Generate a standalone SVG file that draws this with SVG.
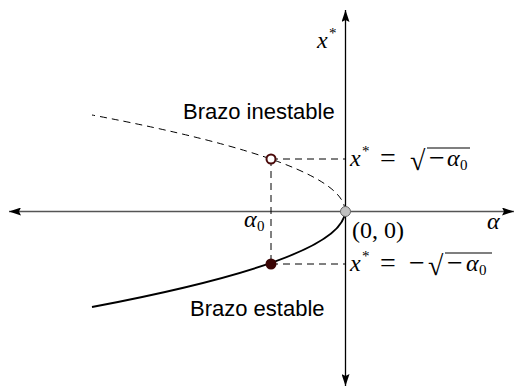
<svg xmlns="http://www.w3.org/2000/svg" width="515" height="390" viewBox="0 0 515 390">
<style>
.lbl{font-family:"Liberation Sans",Arial,sans-serif;font-size:22px;fill:#000}
.m{font-family:"Liberation Serif","Times New Roman",serif;font-size:24px;fill:#000}
.it{font-style:italic}
.s{font-size:15px}
.op{font-size:28px}
.dash{fill:none;stroke:#000;stroke-width:1;stroke-dasharray:7,5}
</style>
<defs>
<marker id="ah" viewBox="0 0 12 8" refX="12" refY="4" markerWidth="12" markerHeight="8" markerUnits="userSpaceOnUse" orient="auto">
<path d="M0,0 L12,4 L0,8 L2,4 Z" fill="#000"/>
</marker>
</defs>
<g id="connectors">
<line x1="345.5" y1="211.5" x2="9" y2="211.5" stroke="#555" stroke-width="1.3" marker-end="url(#ah)"/>
<line x1="345.5" y1="211.5" x2="514" y2="211.5" stroke="#555" stroke-width="1.3" marker-end="url(#ah)"/>
<line x1="345.5" y1="211.5" x2="345.5" y2="10" stroke="#000" stroke-width="1.3" marker-end="url(#ah)"/>
<line x1="345.5" y1="211.5" x2="345.5" y2="386" stroke="#000" stroke-width="1.3" marker-end="url(#ah)"/>
<path class="dash" d="M345,211 Q345,163 92,115"/>
<path d="M345,211 Q345,259 92,307" fill="none" stroke="#000" stroke-width="2"/>
<line class="dash" x1="271" y1="159" x2="271" y2="264"/>
<line class="dash" x1="271" y1="159" x2="345" y2="159"/>
<line class="dash" x1="271" y1="264" x2="345" y2="264"/>
</g>
<g id="unstable-point"><circle cx="271" cy="159" r="4.5" fill="#fff" stroke="#4a0a0a" stroke-width="2"/></g>
<g id="stable-point"><circle cx="271" cy="264" r="5.5" fill="#3a0505"/></g>
<g id="origin"><circle cx="345.5" cy="211.5" r="5" fill="#c0c0c0" stroke="#666" stroke-width="1"/></g>
<g id="labels">
<text class="lbl" x="183" y="119">Brazo inestable</text>
<text class="lbl" x="190" y="316">Brazo estable</text>
<text class="m it" x="317" y="48">x</text>
<text class="m s" x="329" y="38">*</text>
<text class="m it" x="487" y="229">α</text>
<text class="m it" x="244" y="227">α</text>
<text class="m s" x="257" y="231">0</text>
<text class="m" x="352" y="238">(0, 0)</text>
<text class="m it" x="350" y="166">x</text>
<text class="m s" x="362" y="156">*</text>
<text class="m op" x="380" y="167">=</text>
<text class="m op" x="410" y="170">√</text>
<line x1="427" y1="148" x2="470" y2="148" stroke="#000" stroke-width="1.2"/>
<text class="m op" x="429" y="167">−</text>
<text class="m it" x="447" y="166">α</text>
<text class="m s" x="460" y="170">0</text>
<text class="m it" x="350" y="271">x</text>
<text class="m s" x="362" y="261">*</text>
<text class="m op" x="380" y="272">=</text>
<text class="m op" x="409" y="272">−</text>
<text class="m op" x="428" y="275">√</text>
<line x1="445" y1="253" x2="492" y2="253" stroke="#000" stroke-width="1.2"/>
<text class="m op" x="447" y="272">−</text>
<text class="m it" x="466" y="271">α</text>
<text class="m s" x="479" y="275">0</text>
</g>
</svg>
